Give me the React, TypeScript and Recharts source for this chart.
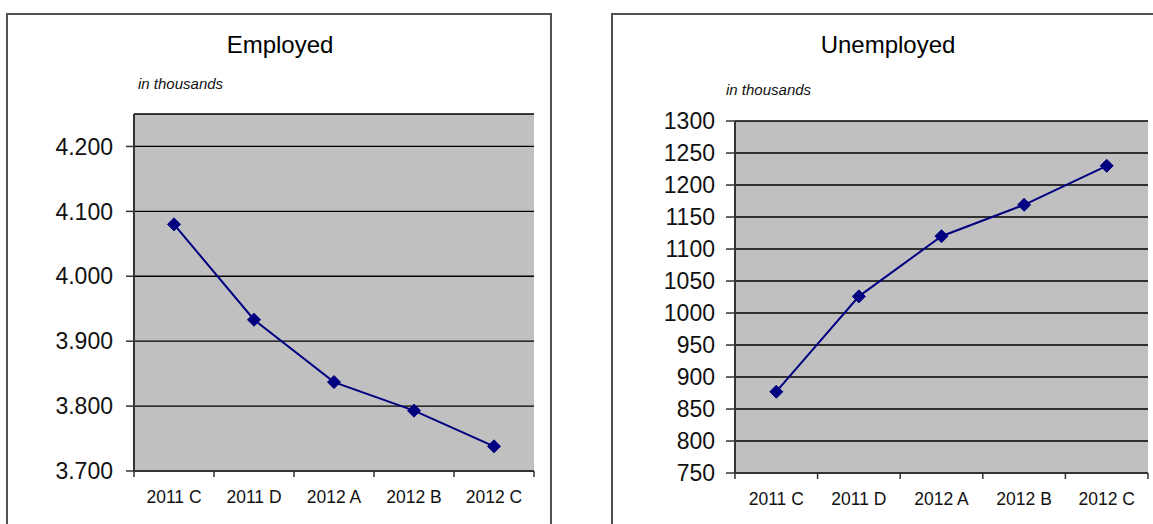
import React from 'react';
import { LineChart, Line, XAxis, YAxis, CartesianGrid } from 'recharts';

const categories = ['2011 C', '2011 D', '2012 A', '2012 B', '2012 C'];
const employedValues = [4080, 3933, 3837, 3793, 3738];
const unemployedValues = [877, 1026, 1120, 1169, 1230];
const employedTicks = [3700, 3800, 3900, 4000, 4100, 4200];
const unemployedTicks = [750, 800, 850, 900, 950, 1000, 1050, 1100, 1150, 1200, 1250, 1300];
const employedDomain = [3700, 4250];
const unemployedDomain = [750, 1300];

const employedData = categories.map((c, i) => ({ cat: c, value: employedValues[i] }));
const unemployedData = categories.map((c, i) => ({ cat: c, value: unemployedValues[i] }));

const FONT = '"Liberation Sans", Arial, Helvetica, sans-serif';
const LINE_COLOR = '#000080';
const AXIS_COLOR = '#333333';

const dotted = (v: number) => String(v).replace(/\B(?=(\d{3})+(?!\d))/g, '.');

const Diamond = (props: any) => {
  const { cx, cy } = props;
  if (cx == null || cy == null) return null;
  const r = 6.5;
  return (
    <polygon
      points={`${cx},${cy - r} ${cx + r},${cy} ${cx},${cy + r} ${cx - r},${cy}`}
      fill={LINE_COLOR}
      stroke={LINE_COLOR}
      strokeWidth={1}
    />
  );
};

const XTick = (props: any) => {
  const { x, y, payload, index, width, visibleTicksCount } = props;
  const count = visibleTicksCount || categories.length;
  const half = (typeof width === 'number' ? width : 400) / count / 2;
  return (
    <g>
      {index === 0 && (
        <line x1={x - half} x2={x - half} y1={y} y2={y + 6} stroke={AXIS_COLOR} strokeWidth={1.5} />
      )}
      <line x1={x + half} x2={x + half} y1={y} y2={y + 6} stroke={AXIS_COLOR} strokeWidth={1.5} />
      <text x={x} y={y + 32} textAnchor="middle" fontSize={17.5} fill="#111" fontFamily={FONT}>
        {payload.value}
      </text>
    </g>
  );
};

type PanelProps = {
  data: any[];
  ticks: number[];
  domain: number[];
  formatter?: (v: number) => string;
  width: number;
  height: number;
  margin: any;
  yWidth: number;
  tickSize: number;
  tickMargin: number;
};

const Panel = ({ data, ticks, domain, formatter, width, height, margin, yWidth, tickSize, tickMargin }: PanelProps) => (
  <LineChart width={width} height={height} data={data} margin={margin} style={{ fontFamily: FONT }}>
    <CartesianGrid vertical={false} stroke="#000" strokeWidth={1.3} fill="#C0C0C0" fillOpacity={1} />
    <XAxis
      dataKey="cat"
      scale="band"
      height={40}
      axisLine={{ stroke: AXIS_COLOR, strokeWidth: 2 }}
      tickLine={false}
      tickSize={0}
      tickMargin={0}
      tick={<XTick />}
      interval={0}
    />
    <XAxis
      xAxisId="frame"
      dataKey="cat"
      scale="band"
      orientation="top"
      height={0}
      tick={false}
      tickLine={false}
      axisLine={{ stroke: '#808080', strokeWidth: 2 }}
    />
    <YAxis
      width={yWidth}
      domain={domain as any}
      ticks={ticks}
      interval={0}
      tickFormatter={formatter}
      tickSize={tickSize}
      tickMargin={tickMargin}
      axisLine={{ stroke: AXIS_COLOR, strokeWidth: 2 }}
      tickLine={{ stroke: AXIS_COLOR, strokeWidth: 1.5 }}
      tick={{ fontSize: 23, fill: '#111', fontFamily: FONT }}
      allowDataOverflow
    />
    <YAxis
      yAxisId="frame"
      orientation="right"
      width={0}
      domain={domain as any}
      tick={false}
      tickLine={false}
      axisLine={{ stroke: '#808080', strokeWidth: 2 }}
    />
    <Line
      type="linear"
      dataKey="value"
      stroke={LINE_COLOR}
      strokeWidth={2}
      dot={<Diamond />}
      activeDot={false}
      isAnimationActive={false}
    />
  </LineChart>
);

const boxStyle = (left: number, width: number): React.CSSProperties => ({
  position: 'absolute',
  left,
  top: 13,
  width,
  height: 540,
  border: '2px solid #505050',
  boxSizing: 'border-box',
});

export default function App() {
  return (
    <div
      style={{
        position: 'absolute',
        left: 0,
        top: 0,
        width: 1153,
        height: 524,
        overflow: 'hidden',
        background: '#fff',
        fontFamily: FONT,
      }}
    >
      <div style={boxStyle(6, 546)} />
      <div style={boxStyle(611, 560)} />

      <div style={{ position: 'absolute', left: 180, width: 200, top: 31, textAlign: 'center', fontSize: 24, lineHeight: '28px', color: '#000' }}>
        Employed
      </div>
      <div style={{ position: 'absolute', left: 138, top: 75, fontSize: 15, fontStyle: 'italic', lineHeight: '18px', color: '#111' }}>
        in thousands
      </div>

      <div style={{ position: 'absolute', left: 788, width: 200, top: 31, textAlign: 'center', fontSize: 24, lineHeight: '28px', color: '#000' }}>
        Unemployed
      </div>
      <div style={{ position: 'absolute', left: 726, top: 81, fontSize: 15, fontStyle: 'italic', lineHeight: '18px', color: '#111' }}>
        in thousands
      </div>

      <div style={{ position: 'absolute', left: 0, top: 0 }}>
        <Panel
          data={employedData}
          ticks={employedTicks}
          domain={employedDomain}
          formatter={dotted}
          width={560}
          height={524}
          margin={{ top: 114, right: 26, bottom: 13, left: 0 }}
          yWidth={134}
          tickSize={8}
          tickMargin={13}
        />
      </div>
      <div style={{ position: 'absolute', left: 600, top: 0 }}>
        <Panel
          data={unemployedData}
          ticks={unemployedTicks}
          domain={unemployedDomain}
          width={553}
          height={524}
          margin={{ top: 121, right: 5, bottom: 11, left: 0 }}
          yWidth={135}
          tickSize={9}
          tickMargin={11}
        />
      </div>
    </div>
  );
}
